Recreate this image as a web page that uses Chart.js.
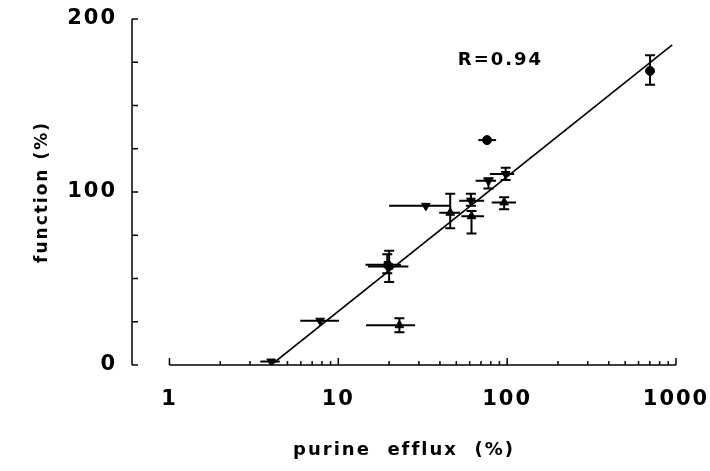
<!DOCTYPE html>
<html>
<head>
<meta charset="utf-8">
<script src="https://cdn.jsdelivr.net/npm/chart.js@4.4.1/dist/chart.umd.min.js"></script>
<style>
  html, body { margin: 0; padding: 0; background: #fff; }
  #wrap { width: 710px; height: 471px; }
</style>
</head>
<body>
<div id="wrap"><canvas id="chart"></canvas></div>
<script>
// tick labels
const xTicks = [1, 10, 100, 1000];
const yTicks = [0, 100, 200];

// filled circles
const circX   = [702, 76];
const circY   = [170, 130];
const circXLo = [null, 67.5];
const circXHi = [null, 86];
const circYLo = [162, null];
const circYHi = [179, null];

// filled triangles (point up)
const upX   = [46, 61.5, 96, 23];
const upY   = [88, 86, 94, 23];
const upXLo = [39.6, 53.5, 81, 14.6];
const upXHi = [52.7, 73, 113, 28.5];
const upYLo = [79, 76, 90, 19];
const upYHi = [99, 89, 97, 27];

// filled triangles (point down)
const downX   = [33, 61, 77.5, 98, 7.8, 4];
const downY   = [92, 95, 106.5, 110.4, 25.6, 2];
const downXLo = [20, 52, 65, 79, 5.95, 3.45];
const downXHi = [46, 73, 86, 110, 10.1, 4.5];
const downYLo = [null, 92, 102, 107, null, null];
const downYHi = [null, 99, 108, 114, null, null];

// filled squares
const sqX   = [20, 19.5];
const sqY   = [57, 58];
const sqXLo = [15, 14.5];
const sqXHi = [26, 23.5];
const sqYLo = [48, 53];
const sqYHi = [66, 64];

// regression line end points
const fitX = [4, 950];
const fitY = [0, 185];
const fitLabel = "R=0.94";

function points(xs, ys, xlo, xhi, ylo, yhi) {
    return xs.map((x, i) => ({ x: x, y: ys[i], xLo: xlo[i], xHi: xhi[i], yLo: ylo[i], yHi: yhi[i] }));
}

const FONT = "'DejaVu Sans', sans-serif";

// letter spacing for all text (context gets reset on resize)
const spacing = {
    id: "spacing",
    beforeUpdate(chart) { chart.ctx.letterSpacing = "2px"; },
    beforeDraw(chart) { chart.ctx.letterSpacing = "2px"; }
};

// error bars
const errorBars = {
    id: "errorBars",
    afterDatasetsDraw(chart) {
        const ctx = chart.ctx;
        const xs = chart.scales.x, ys = chart.scales.y;
        ctx.save();
        ctx.strokeStyle = "#000";
        ctx.lineWidth = 2;
        chart.data.datasets.forEach(ds => {
            if (!ds.errors) return;
            ds.data.forEach(p => {
                const px = xs.getPixelForValue(p.x);
                const py = ys.getPixelForValue(p.y);
                ctx.beginPath();
                if (p.xLo != null) {
                    ctx.moveTo(xs.getPixelForValue(p.xLo), py);
                    ctx.lineTo(xs.getPixelForValue(p.xHi), py);
                }
                if (p.yLo != null) {
                    const t = ys.getPixelForValue(p.yHi), b = ys.getPixelForValue(p.yLo);
                    ctx.moveTo(px, t); ctx.lineTo(px, b);
                    ctx.moveTo(px - 5, t); ctx.lineTo(px + 5, t);
                    ctx.moveTo(px - 5, b); ctx.lineTo(px + 5, b);
                }
                ctx.stroke();
            });
        });
        ctx.restore();
    }
};

// axis lines and tick marks, plus the R label
const axes = {
    id: "axes",
    afterDraw(chart) {
        const ctx = chart.ctx;
        const xs = chart.scales.x, ys = chart.scales.y;
        const left = chart.chartArea.left;
        const y0 = ys.getPixelForValue(0);
        ctx.save();
        ctx.strokeStyle = "#000";
        ctx.lineWidth = 1.5;
        ctx.beginPath();
        ctx.moveTo(left, ys.getPixelForValue(200));
        ctx.lineTo(left, y0);
        for (let v = 0; v <= 200; v += 25) {
            const py = ys.getPixelForValue(v);
            ctx.moveTo(left, py);
            ctx.lineTo(left + 6, py);
        }
        ctx.moveTo(xs.getPixelForValue(1), y0);
        ctx.lineTo(xs.getPixelForValue(1000), y0);
        for (let d = 1; d <= 1000; d *= 10) {
            for (let m = 1; m <= 9; m++) {
                const v = d * m;
                if (v > 1000) break;
                const px = xs.getPixelForValue(v);
                const len = (m === 1) ? 7 : 4;
                ctx.moveTo(px, y0);
                ctx.lineTo(px, y0 - len);
            }
        }
        ctx.stroke();

        ctx.fillStyle = "#000";
        ctx.font = "bold 18px " + FONT;
        ctx.textAlign = "left";
        ctx.textBaseline = "middle";
        ctx.fillText(fitLabel, xs.getPixelForValue(51), ys.getPixelForValue(176));
        ctx.restore();
    }
};

const black = "#000";

new Chart(document.getElementById("chart"), {
    type: "scatter",
    data: {
        datasets: [
            {
                type: "line",
                data: fitX.map((x, i) => ({ x: x, y: fitY[i] })),
                borderColor: black,
                borderWidth: 1.6,
                pointRadius: 0,
                fill: false
            },
            {
                data: points(circX, circY, circXLo, circXHi, circYLo, circYHi),
                errors: true, pointStyle: "circle", pointRadius: 4.5,
                backgroundColor: black, borderColor: black
            },
            {
                data: points(upX, upY, upXLo, upXHi, upYLo, upYHi),
                errors: true, pointStyle: "triangle", pointRadius: 5,
                backgroundColor: black, borderColor: black
            },
            {
                data: points(downX, downY, downXLo, downXHi, downYLo, downYHi),
                errors: true, pointStyle: "triangle", rotation: 180, pointRadius: 5,
                backgroundColor: black, borderColor: black
            },
            {
                data: points(sqX, sqY, sqXLo, sqXHi, sqYLo, sqYHi),
                errors: true, pointStyle: "rect", pointRadius: 4.5,
                backgroundColor: black, borderColor: black
            }
        ]
    },
    options: {
        responsive: true,
        maintainAspectRatio: false,
        animation: false,
        layout: { padding: { left: 0, right: 34, top: 19, bottom: 0 } },
        plugins: { legend: { display: false }, tooltip: { enabled: false } },
        scales: {
            x: {
                type: "logarithmic",
                min: 0.604,
                max: 1000,
                grid: { display: false, drawTicks: false },
                border: { display: false },
                afterBuildTicks: scale => { scale.ticks = xTicks.map(v => ({ value: v })); },
                afterFit: scale => {
                    scale.height = 106;
                    scale.paddingLeft = 0;
                    scale.paddingRight = 0;
                },
                ticks: {
                    padding: 22,
                    color: black,
                    font: { family: FONT, size: 21, weight: "bold" },
                    callback: v => String(v),
                    maxRotation: 0,
                    autoSkip: false
                },
                title: {
                    display: true,
                    text: "purine  efflux  (%)",
                    color: black,
                    font: { family: FONT, size: 18, weight: "bold" },
                    padding: { top: 0, bottom: 10 }
                }
            },
            y: {
                min: 0,
                max: 200,
                grid: { display: false, drawTicks: false },
                border: { display: false },
                afterBuildTicks: scale => { scale.ticks = yTicks.map(v => ({ value: v })); },
                afterFit: scale => {
                    scale.width = 132;
                    scale.paddingTop = 0;
                    scale.paddingBottom = 0;
                },
                ticks: {
                    padding: 15,
                    color: black,
                    font: { family: FONT, size: 21, weight: "bold" }
                },
                title: {
                    display: true,
                    text: "function (%)",
                    color: black,
                    font: { family: FONT, size: 17, weight: "bold" },
                    padding: { top: 32, bottom: 0 }
                }
            }
        }
    },
    plugins: [spacing, errorBars, axes]
});
</script>
</body>
</html>
